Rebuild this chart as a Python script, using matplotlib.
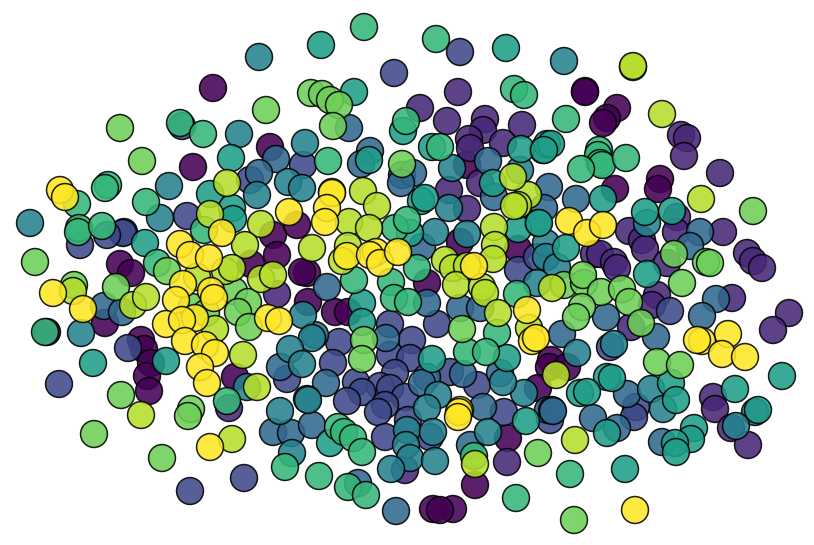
import matplotlib
matplotlib.use("Agg")
import matplotlib.pyplot as plt
import numpy as np

# embedding positions per class
digit_0 = [(213,88),(270,147),(193,167),(273,235),(277,255),(251,264),(120,264),(131,273),(105,323),(141,340),(144,349),(151,363),(147,376),(149,391),(47,332),(235,377),(297,225),(307,273),(302,272),(308,302),(335,312),(348,312),(427,283),(467,165),(460,242),(518,249),(585,91),(585,92),(617,108),(607,118),(603,123),(660,179),(658,189),(615,189),(551,360),(549,367),(567,367),(538,388),(508,438),(475,485),(453,509),(433,509),(440,510)]
digit_1 = [(458,92),(420,108),(447,121),(485,119),(483,130),(522,125),(469,139),(470,148),(503,143),(449,190),(480,183),(467,209),(681,135),(687,138),(684,156),(720,173),(629,231),(677,217),(676,232),(723,232),(642,240),(645,249),(747,253),(753,261),(762,268),(594,254),(600,254),(614,262),(617,268),(667,263),(657,295),(652,305),(631,327),(732,298),(789,313),(773,330),(713,397),(715,409),(731,428),(748,445),(277,294),(229,408),(507,462),(405,470)]
digit_2 = [(182,126),(250,180),(303,165),(187,216),(124,232),(123,233),(107,235),(80,245),(128,348),(59,384),(190,491),(244,478),(394,73),(460,52),(518,270),(537,257),(339,342),(333,363),(287,379),(390,324),(437,324),(412,340),(390,355),(410,358),(450,372),(477,385),(356,382),(395,373),(380,386),(362,392),(347,401),(390,388),(405,397),(385,405),(378,412),(408,420),(385,437),(430,437),(504,412),(670,311),(610,347),(636,407),(634,417),(550,420)]
digit_3 = [(276,159),(259,173),(104,306),(122,312),(349,128),(370,151),(361,164),(402,175),(413,173),(401,183),(488,161),(494,197),(422,247),(327,287),(427,303),(460,308),(480,308),(386,338),(315,335),(280,367),(326,383),(463,374),(427,377),(422,383),(500,373),(483,407),(548,410),(552,410),(553,411),(273,432),(291,433),(312,425),(470,445),(396,511),(358,483),(549,187),(576,199),(544,208),(700,232),(690,246),(716,299),(702,316),(606,317),(656,337),(562,334),(627,394),(593,418),(617,428),(662,442),(755,412)]
digit_4 = [(259,57),(239,134),(257,195),(169,186),(160,218),(30,223),(81,333),(305,143),(288,182),(302,188),(452,168),(520,170),(449,208),(435,232),(467,234),(564,61),(647,223),(546,243),(546,257),(557,267),(537,283),(303,315),(312,338),(290,349),(302,364),(247,387),(577,353),(614,344),(651,389),(663,409),(524,393),(503,382),(438,395),(427,408),(280,411),(307,399),(308,400),(407,430),(433,432),(406,445),(410,458),(435,461),(391,469),(292,453),(488,432),(736,426)]
digit_5 = [(321,45),(506,48),(354,92),(403,131),(231,158),(210,194),(232,208),(233,219),(145,243),(93,363),(166,361),(432,147),(543,150),(547,144),(521,149),(369,160),(421,201),(425,198),(493,183),(538,223),(518,229),(410,233),(551,144),(544,150),(603,199),(539,223),(566,248),(645,212),(672,211),(647,274),(362,303),(362,322),(507,358),(432,359),(671,383),(676,400),(607,377),(612,378),(580,393),(587,392),(607,433),(526,421),(330,443),(625,469),(782,376),(735,389),(758,410),(694,428),(691,439),(675,443),(676,452)]
digit_6 = [(364,27),(436,39),(514,89),(524,95),(406,121),(180,123),(203,134),(146,202),(108,185),(105,188),(77,204),(79,228),(78,232),(102,226),(204,230),(157,263),(328,161),(440,147),(566,119),(599,150),(598,155),(600,163),(602,165),(626,158),(581,169),(395,228),(407,220),(417,268),(354,280),(391,282),(394,298),(408,302),(517,294),(497,333),(467,352),(486,352),(227,401),(338,427),(344,432),(353,438),(362,452),(285,467),(319,476),(348,487),(366,495),(474,456),(516,498),(570,474),(45,332)]
digit_7 = [(266,110),(120,128),(142,161),(35,262),(311,93),(322,94),(330,100),(339,105),(333,126),(402,164),(74,285),(116,287),(167,271),(121,395),(94,434),(191,409),(188,416),(162,458),(192,307),(206,313),(234,291),(248,302),(238,312),(249,327),(364,340),(362,359),(462,329),(538,453),(574,520),(674,254),(706,262),(710,263),(682,283),(753,211),(564,285),(584,283),(583,275),(601,292),(622,289),(629,302),(582,307),(576,317),(641,323),(657,362),(680,365)]
digit_8 = [(633,67),(633,66),(662,114),(701,199),(227,183),(210,214),(261,224),(245,245),(225,271),(232,268),(197,277),(73,291),(133,305),(146,297),(215,329),(243,355),(257,387),(141,415),(232,439),(261,279),(273,275),(312,248),(363,191),(377,206),(349,222),(369,228),(348,246),(342,261),(494,227),(495,245),(493,259),(528,195),(518,205),(514,206),(513,177),(445,260),(453,268),(467,266),(456,285),(482,287),(485,293),(498,313),(529,328),(552,288),(556,375),(575,440),(475,464)]
digit_9 = [(60,190),(65,197),(180,244),(190,255),(209,258),(222,233),(289,212),(183,284),(176,300),(211,291),(214,298),(195,318),(166,324),(182,320),(185,341),(205,345),(215,353),(200,367),(207,383),(53,293),(83,309),(268,318),(279,321),(210,447),(332,192),(332,193),(327,208),(325,222),(347,256),(376,252),(370,255),(380,263),(398,252),(474,266),(527,310),(532,341),(460,410),(459,412),(458,417),(569,221),(587,233),(603,225),(728,334),(702,341),(697,340),(722,354),(745,357),(536,338),(635,510)]

CLASSES = [digit_0, digit_1, digit_2, digit_3, digit_4, digit_5, digit_6, digit_7, digit_8, digit_9]


def main() -> None:
    fig = plt.figure(figsize=(8.14, 5.45), dpi=100)
    ax = fig.add_axes([0, 0, 1, 1])
    for label, pts in enumerate(CLASSES):
        pts = np.array(pts)
        ax.scatter(pts[:, 0], pts[:, 1], c=np.full(len(pts), label), cmap="viridis", vmin=0, vmax=9,
                   s=375, alpha=0.88, edgecolors="black", linewidths=1.1)
    ax.set_xlim(0, 814)
    ax.set_ylim(545, 0)
    ax.axis("off")
    fig.savefig("out.png", dpi=100)
    plt.close(fig)


if __name__ == "__main__":
    main()
